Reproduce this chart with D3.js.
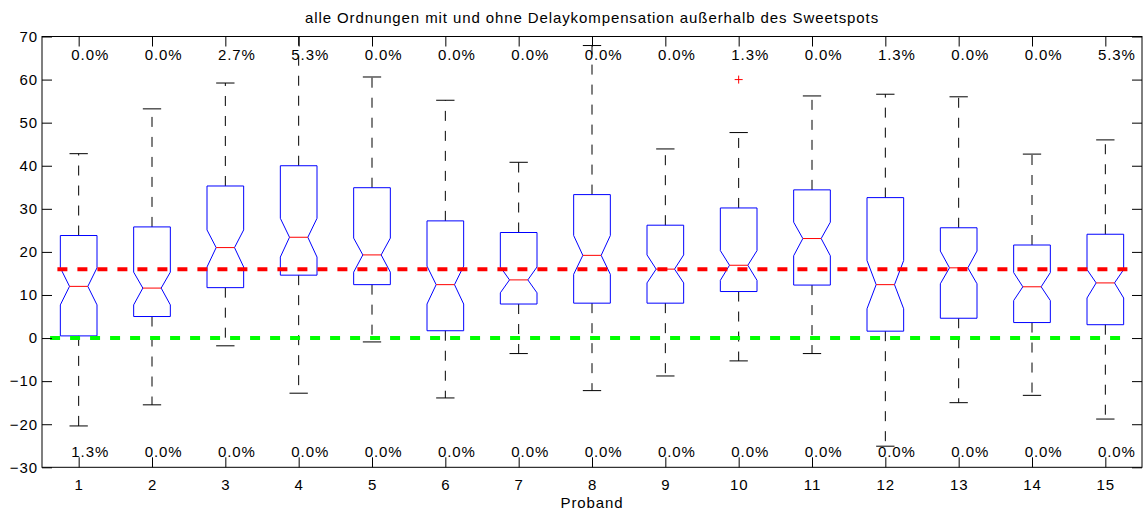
<!DOCTYPE html>
<html>
<head>
<meta charset="utf-8">
<script src="https://cdn.jsdelivr.net/npm/d3@7"></script>
<style>
  html, body { margin: 0; padding: 0; background: #fff; }
  svg { display: block; font-family: "Liberation Sans", Arial, Helvetica, sans-serif; }
  text { letter-spacing: 0.9px; }
</style>
</head>
<body>
<svg id="chart" width="1145" height="512"></svg>
<script>
// ---- data ----
const title = "alle Ordnungen mit und ohne Delaykompensation außerhalb des Sweetspots";
const xLabel = "Proband";
const categories = [1, 2, 3, 4, 5, 6, 7, 8, 9, 10, 11, 12, 13, 14, 15];
const q1       = [0.5, 5.0, 11.7, 14.6, 12.4, 1.7, 7.9, 8.1, 8.1, 10.8, 12.3, 1.6, 4.6, 3.6, 3.1];
const medians  = [12.0, 11.6, 21.0, 23.4, 19.3, 12.4, 13.5, 19.2, 16.0, 16.9, 23.1, 12.4, 16.3, 11.9, 12.8];
const q3       = [23.8, 25.8, 35.3, 40.0, 34.9, 27.2, 24.5, 33.3, 26.2, 30.2, 34.4, 32.6, 25.6, 21.6, 24.1];
const notchLo  = [7.7, 7.7, 16.5, 18.8, 15.3, 7.9, 10.5, 14.8, 12.8, 13.4, 19.1, 6.8, 12.6, 8.7, 9.3];
const notchHi  = [16.3, 15.3, 25.1, 27.8, 23.2, 16.7, 16.5, 23.8, 19.3, 20.3, 26.9, 18.0, 20.2, 15.2, 15.9];
const whiskLo  = [-20.4, -15.5, -1.8, -12.8, -0.9, -13.9, -3.6, -12.2, -8.8, -5.3, -3.6, -25.1, -15.0, -13.3, -18.8];
const whiskHi  = [42.8, 53.2, 59.2, 72.0, 60.6, 55.2, 40.8, 67.9, 43.9, 47.7, 56.2, 56.6, 56.0, 42.7, 46.0];
const outliers = [[], [], [], [], [], [], [], [], [], [60.0], [], [], [], [], []];
const pctAbove = ["0.0%", "0.0%", "2.7%", "5.3%", "0.0%", "0.0%", "0.0%", "0.0%", "0.0%", "1.3%", "0.0%", "1.3%", "0.0%", "0.0%", "5.3%"];
const pctBelow = ["1.3%", "0.0%", "0.0%", "0.0%", "0.0%", "0.0%", "0.0%", "0.0%", "0.0%", "0.0%", "0.0%", "0.0%", "0.0%", "0.0%", "0.0%"];
const yTicks = [-30, -20, -10, 0, 10, 20, 30, 40, 50, 60, 70];
const refLines = [
  { value: 16, from: 0.71, to: 15.31, color: "#ff0000" },
  { value: 0,  from: 0.61, to: 15.31, color: "#00ff00" }
];

// ---- layout ----
const L = 42, R = 1142, T = 36.5, B = 467.3;
const svg = d3.select("#chart");
const x = d3.scaleLinear().domain([0.5, 15.5]).range([L, R]);
const y = d3.scaleLinear().domain([-30, 70]).range([B, T]);
const halfW = 0.25, capW = 0.125;
const fs = 15;

svg.append("defs").append("clipPath").attr("id", "clip")
  .append("rect").attr("x", L).attr("y", T).attr("width", R - L).attr("height", B - T);

const plot = svg.append("g").attr("clip-path", "url(#clip)");

// whiskers
categories.forEach((c, i) => {
  const g = plot.append("g");
  [[q3[i], whiskHi[i]], [q1[i], whiskLo[i]]].forEach(([a, b]) => {
    g.append("line").attr("x1", x(c)).attr("x2", x(c)).attr("y1", y(a)).attr("y2", y(b))
      .attr("stroke", "#000").attr("stroke-width", 1).attr("stroke-dasharray", "10,10");
  });
  [whiskHi[i], whiskLo[i]].forEach(v => {
    g.append("line").attr("x1", x(c - capW)).attr("x2", x(c + capW)).attr("y1", y(v)).attr("y2", y(v))
      .attr("stroke", "#000").attr("stroke-width", 1);
  });
});

// boxes
categories.forEach((c, i) => {
  const pts = [
    [c - halfW, q3[i]], [c + halfW, q3[i]], [c + halfW, notchHi[i]], [c + halfW / 2, medians[i]],
    [c + halfW, notchLo[i]], [c + halfW, q1[i]], [c - halfW, q1[i]], [c - halfW, notchLo[i]],
    [c - halfW / 2, medians[i]], [c - halfW, notchHi[i]]
  ];
  plot.append("path")
    .attr("d", d3.line().x(d => x(d[0])).y(d => y(d[1]))(pts) + "Z")
    .attr("fill", "none").attr("stroke", "#0000ff").attr("stroke-width", 1);
  plot.append("line")
    .attr("x1", x(c - halfW / 2)).attr("x2", x(c + halfW / 2))
    .attr("y1", y(medians[i])).attr("y2", y(medians[i]))
    .attr("stroke", "#ff0000").attr("stroke-width", 1);
  outliers[i].forEach(v => {
    plot.append("path")
      .attr("d", `M${x(c) - 4},${y(v)}h8M${x(c)},${y(v) - 4}v8`)
      .attr("stroke", "#ff0000").attr("stroke-width", 1).attr("fill", "none");
  });
});

// reference lines
refLines.forEach(r => {
  plot.append("line")
    .attr("x1", x(r.from)).attr("x2", x(r.to)).attr("y1", y(r.value)).attr("y2", y(r.value))
    .attr("stroke", r.color).attr("stroke-width", 4).attr("stroke-dasharray", "10,10");
});

// percentage labels
categories.forEach((c, i) => {
  svg.append("text").attr("x", x(c - 0.1)).attr("y", 60).attr("font-size", fs)
    .attr("fill", "#000").text(pctAbove[i]);
  svg.append("text").attr("x", x(c - 0.1)).attr("y", 457).attr("font-size", fs)
    .attr("fill", "#000").text(pctBelow[i]);
});

// axes frame
svg.append("rect").attr("x", L).attr("y", T).attr("width", R - L).attr("height", B - T)
  .attr("fill", "none").attr("stroke", "#000").attr("stroke-width", 1);

// y ticks (left & right, inward)
const yAxisL = d3.axisLeft(y).tickValues(yTicks).tickSizeInner(-10).tickSizeOuter(0)
  .tickPadding(4).tickFormat(d3.format("d"));
const gyl = svg.append("g").attr("transform", `translate(${L},0)`).call(yAxisL);
gyl.select(".domain").remove();
gyl.selectAll("text").attr("font-size", fs).attr("fill", "#000").attr("font-family", null);
gyl.selectAll("line").attr("stroke", "#000");

const yAxisR = d3.axisRight(y).tickValues(yTicks).tickSizeInner(-10).tickSizeOuter(0).tickFormat("");
const gyr = svg.append("g").attr("transform", `translate(${R},0)`).call(yAxisR);
gyr.select(".domain").remove();
gyr.selectAll("line").attr("stroke", "#000");

// x ticks (bottom & top, inward)
const xAxisB = d3.axisBottom(x).tickValues(categories).tickSizeInner(-10).tickSizeOuter(0)
  .tickPadding(12).tickFormat(d3.format("d"));
const gxb = svg.append("g").attr("transform", `translate(0,${B})`).call(xAxisB);
gxb.select(".domain").remove();
gxb.selectAll("text").attr("font-size", fs).attr("fill", "#000").attr("font-family", null);
gxb.selectAll("line").attr("stroke", "#000");

const xAxisT = d3.axisTop(x).tickValues(categories).tickSizeInner(-10).tickSizeOuter(0).tickFormat("");
const gxt = svg.append("g").attr("transform", `translate(0,${T})`).call(xAxisT);
gxt.select(".domain").remove();
gxt.selectAll("line").attr("stroke", "#000");

// titles
svg.append("text").attr("x", (L + R) / 2).attr("y", 23).attr("text-anchor", "middle")
  .attr("font-size", fs).attr("fill", "#000").text(title);
svg.append("text").attr("x", (L + R) / 2).attr("y", 508).attr("text-anchor", "middle")
  .attr("font-size", fs).attr("fill", "#000").text(xLabel);
</script>
</body>
</html>
